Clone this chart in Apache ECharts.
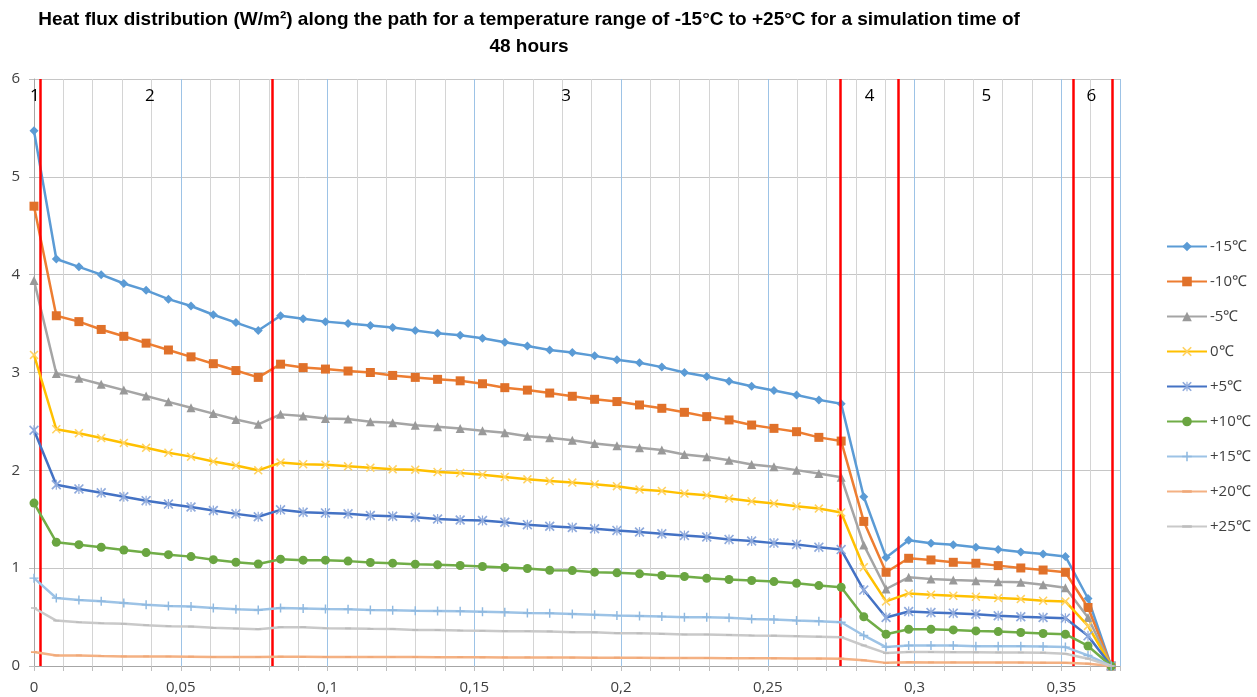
<!DOCTYPE html>
<html>
<head>
<meta charset="utf-8">
<script src="https://cdn.jsdelivr.net/npm/echarts@6/dist/echarts.min.js"></script>
<style>html,body{margin:0;padding:0;background:#fff;}#c{width:1257px;height:697px;}</style>
</head>
<body>
<div id="c"></div>
<script>
// distance along the path (m)
const xs = [0,0.0076,0.0153,0.0229,0.0306,0.0382,0.0458,0.0535,0.0611,0.0688,0.0764,
 0.0840,0.0917,0.0993,0.1070,0.1146,0.1222,0.1299,0.1375,0.1452,0.1528,0.1604,0.1681,0.1757,
 0.1834,0.1910,0.1986,0.2063,0.2139,0.2216,0.2292,0.2368,0.2445,0.2521,0.2598,0.2674,0.2750,
 0.2827,0.2903,0.2980,0.3056,0.3132,0.3209,0.3285,0.3362,0.3438,0.3514,0.3591,0.3670];

const m15 = [5.47,4.16,4.08,4.00,3.91,3.84,3.75,3.68,3.59,3.51,3.43,
 3.58,3.55,3.52,3.50,3.48,3.46,3.43,3.40,3.38,3.35,3.31,3.27,3.23,
 3.205,3.17,3.13,3.10,3.055,3.00,2.96,2.91,2.86,2.815,2.77,2.72,2.68,
 1.73,1.11,1.285,1.255,1.24,1.215,1.19,1.165,1.145,1.12,0.69,0];
const m10 = [4.70,3.58,3.52,3.44,3.37,3.30,3.23,3.16,3.09,3.02,2.95,
 3.085,3.05,3.035,3.015,3.00,2.97,2.95,2.93,2.915,2.885,2.845,2.82,2.79,
 2.757,2.726,2.703,2.668,2.634,2.593,2.549,2.515,2.463,2.429,2.395,2.337,2.299,
 1.478,0.958,1.101,1.084,1.06,1.05,1.026,1.002,0.981,0.958,0.598,0];
const m5 = [3.94,2.99,2.94,2.88,2.82,2.76,2.70,2.64,2.58,2.52,2.47,
 2.572,2.555,2.531,2.524,2.497,2.486,2.462,2.445,2.428,2.404,2.384,2.349,2.332,
 2.308,2.275,2.251,2.231,2.207,2.162,2.138,2.104,2.060,2.036,2.002,1.968,1.93,
 1.238,0.787,0.906,0.889,0.879,0.872,0.862,0.855,0.831,0.80,0.496,0];
const p0 = [3.18,2.42,2.38,2.33,2.28,2.23,2.18,2.14,2.09,2.05,2.00,
 2.079,2.062,2.058,2.041,2.027,2.010,2.007,1.983,1.973,1.955,1.932,1.908,1.890,
 1.875,1.858,1.838,1.803,1.790,1.762,1.745,1.711,1.684,1.660,1.632,1.609,1.570,
 1.009,0.660,0.742,0.728,0.718,0.708,0.694,0.684,0.667,0.660,0.41,0];
const p5 = [2.41,1.853,1.81,1.77,1.73,1.69,1.655,1.625,1.59,1.555,1.525,
 1.596,1.572,1.565,1.555,1.538,1.531,1.521,1.503,1.493,1.486,1.469,1.445,1.428,
 1.415,1.403,1.386,1.369,1.352,1.335,1.318,1.294,1.277,1.256,1.243,1.215,1.19,
 0.776,0.496,0.557,0.547,0.540,0.530,0.513,0.503,0.496,0.489,0.308,0];
const p10 = [1.665,1.265,1.24,1.214,1.186,1.159,1.138,1.118,1.087,1.06,1.043,
 1.092,1.082,1.082,1.072,1.058,1.051,1.041,1.034,1.027,1.017,1.007,0.997,0.979,
 0.975,0.959,0.952,0.942,0.925,0.915,0.897,0.884,0.874,0.863,0.846,0.822,0.805,
 0.503,0.325,0.376,0.376,0.369,0.359,0.352,0.342,0.332,0.325,0.205,0];
const p15 = [0.898,0.695,0.675,0.661,0.644,0.627,0.614,0.607,0.593,0.580,0.573,
 0.593,0.588,0.583,0.580,0.573,0.570,0.566,0.563,0.559,0.555,0.549,0.542,0.539,
 0.532,0.525,0.515,0.512,0.505,0.498,0.498,0.492,0.481,0.475,0.464,0.458,0.447,
 0.312,0.193,0.210,0.210,0.210,0.203,0.203,0.203,0.200,0.193,0.108,0];
const p20 = [0.142,0.108,0.108,0.102,0.098,0.098,0.097,0.095,0.092,0.092,0.092,
 0.095,0.094,0.093,0.093,0.092,0.092,0.091,0.090,0.090,0.089,0.088,0.088,0.087,
 0.086,0.085,0.085,0.084,0.083,0.082,0.081,0.080,0.079,0.078,0.077,0.076,0.075,
 0.058,0.032,0.038,0.037,0.037,0.036,0.035,0.035,0.034,0.033,0.024,0];
const p25 = [0.593,0.464,0.447,0.437,0.431,0.417,0.407,0.403,0.390,0.383,0.376,
 0.397,0.397,0.386,0.384,0.380,0.378,0.369,0.367,0.363,0.360,0.356,0.355,0.353,
 0.346,0.344,0.336,0.334,0.329,0.322,0.322,0.318,0.312,0.310,0.305,0.300,0.295,
 0.210,0.132,0.142,0.142,0.141,0.140,0.139,0.138,0.136,0.125,0.075,0];

const seriesNames = ['-15\u2103','-10\u2103','-5\u2103','0\u2103','+5\u2103','+10\u2103','+15\u2103','+20\u2103','+25\u2103'];
const seriesValues = [m15,m10,m5,p0,p5,p10,p15,p20,p25];

// layer boundaries (red lines) and layer labels
const boundaries = [0.002,0.0813,0.2748,0.2946,0.3541,0.3675];
const layerNames = ['1','2','3','4','5','6'];
const layerLabelX = [0.0003,0.0395,0.1813,0.2847,0.3245,0.3602];
const layerLabelY = 5.82;

const titleText = 'Heat flux distribution (W/m\u00B2) along the path for a temperature range of -15\u00B0C to +25\u00B0C for a simulation time of\n48 hours';

const X_PATH = 'path://M0,1.2L1.2,0L5,3.8L8.8,0L10,1.2L6.2,5L10,8.8L8.8,10L5,6.2L1.2,10L0,8.8L3.8,5Z';
const STAR_PATH = 'path://M0,1.2L1.2,0L5,3.8L8.8,0L10,1.2L6.2,5L10,8.8L8.8,10L5,6.2L1.2,10L0,8.8L3.8,5Z M4.4,0L5.6,0L5.6,10L4.4,10Z';
const PLUS_PATH = 'path://M4.2,0L5.8,0L5.8,4.2L10,4.2L10,5.8L5.8,5.8L5.8,10L4.2,10L4.2,5.8L0,5.8L0,4.2L4.2,4.2Z';
const DASH_PATH = 'path://M0,0L0.01,0L0,0.01Z M0,3.6L10,3.6L10,6.4L0,6.4Z M9.99,10L10,10L10,9.99Z';

const styles = [
  {color:'#5B9BD5', mcolor:'#5B9BD5', symbol:'diamond', size:9},
  {color:'#ED7D31', mcolor:'#E0712A', symbol:'rect', size:9},
  {color:'#A5A5A5', mcolor:'#999999', symbol:'triangle', size:9},
  {color:'#FFC000', mcolor:'#FFD262', symbol:X_PATH, size:9},
  {color:'#4472C4', mcolor:'#8FAADC', symbol:STAR_PATH, size:10},
  {color:'#70AD47', mcolor:'#6AA541', symbol:'circle', size:9},
  {color:'#9DC3E6', mcolor:'#8FB9E0', symbol:PLUS_PATH, size:9},
  {color:'#F4B183', mcolor:'#F0A878', symbol:DASH_PATH, size:6},
  {color:'#C9C9C9', mcolor:'#BDBDBD', symbol:DASH_PATH, size:6}
];

const chart = echarts.init(document.getElementById('c'));

const series = [{
  type:'line', data:[], z:1, silent:true,
  markLine:{
    silent:true, symbol:['none','none'], animation:false, precision:5,
    label:{show:false},
    lineStyle:{color:'#FF0000', width:2.5, type:'solid'},
    data: boundaries.map(b => ({xAxis:b}))
  },
  markPoint:{
    silent:true, animation:false, symbol:'circle', symbolSize:0, precision:5,
    label:{show:true, position:'inside', color:'#000', fontSize:17, fontFamily:'Open Sans', formatter:p=>p.name},
    data: layerNames.map((n,i)=>({name:n, coord:[layerLabelX[i], layerLabelY]}))
  }
}];
seriesNames.forEach((name,i)=>{
  const st = styles[i];
  series.push({
    name:name, type:'line', z:2+i,
    data: xs.map((x,k)=>[x, seriesValues[i][k]]),
    symbol: st.symbol, symbolSize: st.size, showAllSymbol:true,
    lineStyle:{color:st.color, width:2.5},
    itemStyle:{color:st.mcolor},
    animation:false
  });
});

chart.setOption({
  backgroundColor:'#fff',
  animation:false,
  title:{
    text:titleText, left:524, top:1, textAlign:'center',
    textStyle:{fontFamily:'Liberation Sans', fontWeight:'bold', fontSize:19, color:'#000', lineHeight:27}
  },
  legend:{
    orient:'vertical', left:1161, top:234,
    itemWidth:40, itemHeight:12, itemGap:20,
    data:seriesNames,
    textStyle:{fontSize:15, color:'#404040', fontFamily:'Open Sans', padding:[0,0,0,-2]}
  },
  grid:{left:34, right:137, top:79, bottom:31, containLabel:false},
  xAxis:[{
    type:'value', min:0, max:0.37, interval:0.01,
    axisLine:{show:true, lineStyle:{color:'#A6A6A6'}},
    axisTick:{show:true, length:5, lineStyle:{color:'#BFBFBF'}},
    axisLabel:{show:false},
    splitLine:{show:true, lineStyle:{color:'#D4D4D4', width:1}}
  },{
    type:'value', min:0, max:0.37, interval:0.05, position:'bottom',
    axisLine:{show:false},
    axisTick:{show:false},
    axisLabel:{show:true, showMaxLabel:false, fontSize:15, color:'#404040', fontFamily:'Open Sans', margin:14,
      formatter:v=>{const r=v/0.05; if(Math.abs(r-Math.round(r))>1e-6) return ''; return String(+v.toFixed(2)).replace('.',',');}},
    splitLine:{show:true, lineStyle:{color:'#9DC3E6', width:1}}
  }],
  yAxis:{
    type:'value', min:0, max:6, interval:1,
    axisLine:{show:true, lineStyle:{color:'#A6A6A6'}},
    axisTick:{show:true, length:5, lineStyle:{color:'#BFBFBF'}},
    axisLabel:{fontSize:15, color:'#404040', fontFamily:'Open Sans', margin:14},
    splitLine:{show:true, lineStyle:{color:'#C6C6C6', width:1}}
  },
  series:series
});
</script>
</body>
</html>
